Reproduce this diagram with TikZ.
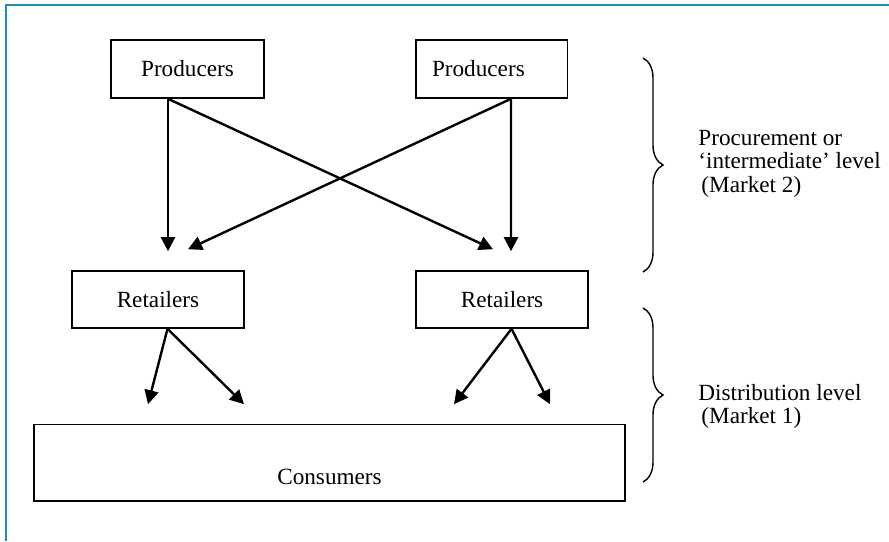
\documentclass[tikz,border=0pt]{standalone}
\usepackage{fontspec}
\setmainfont{Liberation Serif}
\usepackage{xcolor}
\usetikzlibrary{arrows.meta,positioning,decorations.pathreplacing}
\definecolor{frameblue}{HTML}{1A8CBD}

\begin{document}
\begin{tikzpicture}[x=0.5pt,y=-0.5pt,
  box/.style={rectangle,draw=black,line width=0.8pt,inner sep=0pt,font=\fontsize{11.6}{11.75}\selectfont},
  txt/.style={inner sep=0pt,font=\fontsize{11.6}{11.75}\selectfont},
  lvl/.style={txt,anchor=west,align=left},
  arr/.style={-{Triangle[length=7pt,width=7pt]},line width=1.2pt},
  brc/.style={decorate,decoration={brace,amplitude=10pt},line width=0.7pt}]
\useasboundingbox (0,0) rectangle (889,541);
\draw[frameblue,line width=1pt] (6,541) -- (6,5) -- (889,5);
% market boxes
\node[box,minimum width=76.5pt,minimum height=29pt] (prodA) at (187.5,69) {Producers};
\node[box,minimum width=75.75pt,minimum height=29pt,text width=59.75pt,inner xsep=8pt,align=left] (prodB) at (491.75,69) {Producers};
\node[box,minimum width=86pt,minimum height=28.5pt] (retA) at (158,299.5) {Retailers};
\node[box,minimum width=86pt,minimum height=28.5pt] (retB) at (502,299.5) {Retailers};
\node[box,minimum width=295.5pt,minimum height=38.25pt] (cons) at (329.5,462.75) {};
\node[txt] (constxt) at ([yshift=12.5pt]cons.south) {Consumers};
% procurement flows
\draw[arr] ([xshift=-9.75pt]prodA.south) -- ([xshift=5pt,yshift=9.5pt]retA.north);
\draw[arr] ([xshift=-9.75pt]prodA.south) -- ([xshift=-4.5pt,yshift=10.5pt]retB.north);
\draw[arr] ([xshift=9.6pt]prodB.south) -- ([xshift=15pt,yshift=10.5pt]retA.north);
\draw[arr] ([xshift=9.6pt]prodB.south) -- ([xshift=4.5pt,yshift=9.5pt]retB.north);
% distribution flows
\foreach \r/\dx in {retA/-90.75,retA/-42.75,retB/62.25,retB/110.25}
  \draw[arr] ([xshift=4.75pt]\r.south) -- ([xshift=\dx pt,yshift=9.75pt]cons.north);
% levels
\coordinate (brA1) at (643,58);
\coordinate (brA2) at (643,272);
\coordinate (brB1) at (643,308);
\coordinate (brB2) at (643,482);
\draw[brc] (brA1) -- (brA2);
\draw[brc] (brB1) -- (brB2);
\node[lvl] (lvlA) at (698,163.5) {Procurement or\\`intermediate' level\\\hspace{1.5pt}(Market 2)};
\node[lvl] (lvlB) at (698,406.5) {Distribution level\\\hspace{1.5pt}(Market 1)};
\end{tikzpicture}
\end{document}
